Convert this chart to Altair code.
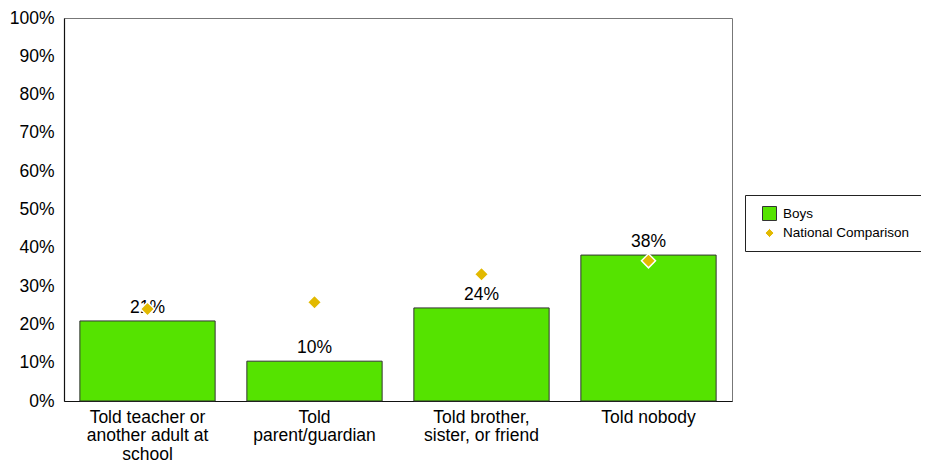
import altair as alt
import pandas as pd

FONT = "Liberation Sans, Arial, Helvetica, sans-serif"

categories = [
    "Told teacher or another adult at school",
    "Told parent/guardian",
    "Told brother, sister, or friend",
    "Told nobody",
]
category_lines = [
    ["Told teacher or", "another adult at", "school"],
    ["Told", "parent/guardian"],
    ["Told brother,", "sister, or friend"],
    ["Told nobody"],
]
boys = [20.9, 10.4, 24.3, 38.1]
national = [24.0, 25.8, 33.1, 36.6]
series_names = ["Boys", "National Comparison"]
y_ticks = [0, 10, 20, 30, 40, 50, 60, 70, 80, 90, 100]

bars_df = pd.DataFrame({"category": categories, "series": series_names[0], "value": boys})
nat_df = pd.DataFrame({
    "category": categories,
    "series": series_names[1],
    "value": national,
    "size_key": series_names[0],
})

# multi-line x labels
expr = "datum.label"
for cat, lines in reversed(list(zip(categories, category_lines))):
    arr = "[" + ",".join("'" + l + "'" for l in lines) + "]"
    expr = f"datum.value === '{cat}' ? {arr} : ({expr})"

color_scale = alt.Scale(domain=series_names, range=["#55E300", "#E2B900"])
shape_scale = alt.Scale(domain=series_names, range=["square", "diamond"])
stroke_scale = alt.Scale(domain=series_names, range=["#333333", "#FFFFFF"])
size_scale = alt.Scale(domain=series_names, range=[196, 81])

legend = alt.Legend(
    title=None, orient="none", legendX=681, legendY=177,
    strokeColor="#222", fillColor="#FFFFFF", padding=11,
    labelFont=FONT, labelFontSize=13.5, labelColor="#000",
    symbolStrokeWidth=1, symbolOpacity=1, rowPadding=2.3,
    labelOffset=6, symbolOffset=6,
)

x_enc = alt.X(
    "category:N", sort=categories, title=None,
    scale=alt.Scale(paddingInner=0.19, paddingOuter=0.095),
    axis=alt.Axis(labelAngle=0, labelExpr=expr, labelPadding=7,
                  labelLineHeight=18.5, labelBaseline="top", labelLimit=300),
)
y_enc = alt.Y(
    "value:Q", title=None, scale=alt.Scale(domain=[0, 100]),
    axis=alt.Axis(values=y_ticks, labelExpr="datum.value + '%'", labelPadding=10),
)

bars = alt.Chart(bars_df).mark_bar(strokeWidth=1).encode(
    x=x_enc,
    y=y_enc,
    color=alt.Color("series:N", scale=color_scale, legend=legend),
    stroke=alt.Stroke("series:N", scale=stroke_scale, legend=legend),
)

labels = alt.Chart(bars_df).transform_calculate(
    label="format(datum.value, '.0f') + '%'"
).mark_text(
    baseline="alphabetic", dy=-8, font=FONT, fontSize=17.5, color="#000"
).encode(x=x_enc, y=y_enc, text="label:N")

points = alt.Chart(nat_df).mark_point(filled=True, opacity=1, strokeWidth=1.5).encode(
    x=x_enc,
    y=y_enc,
    color=alt.Color("series:N", scale=color_scale, legend=legend),
    shape=alt.Shape("series:N", scale=shape_scale, legend=legend),
    stroke=alt.Stroke("series:N", scale=stroke_scale, legend=legend),
    size=alt.Size("size_key:N", scale=size_scale, legend=legend),
)

chart = alt.layer(bars, labels, points).properties(
    width=668, height=383,
    autosize=alt.AutoSizeParams(type="none"),
    padding={"left": 56, "top": 10, "right": 189, "bottom": 61},
).configure_view(
    stroke="#777", strokeWidth=1
).configure_axis(
    labelFont=FONT, labelFontSize=17.5, labelColor="#000",
    domainColor="#111", domainWidth=1.2, ticks=False, grid=False,
)

chart.save("out.html", embed_options={"renderer": "svg", "actions": False})
